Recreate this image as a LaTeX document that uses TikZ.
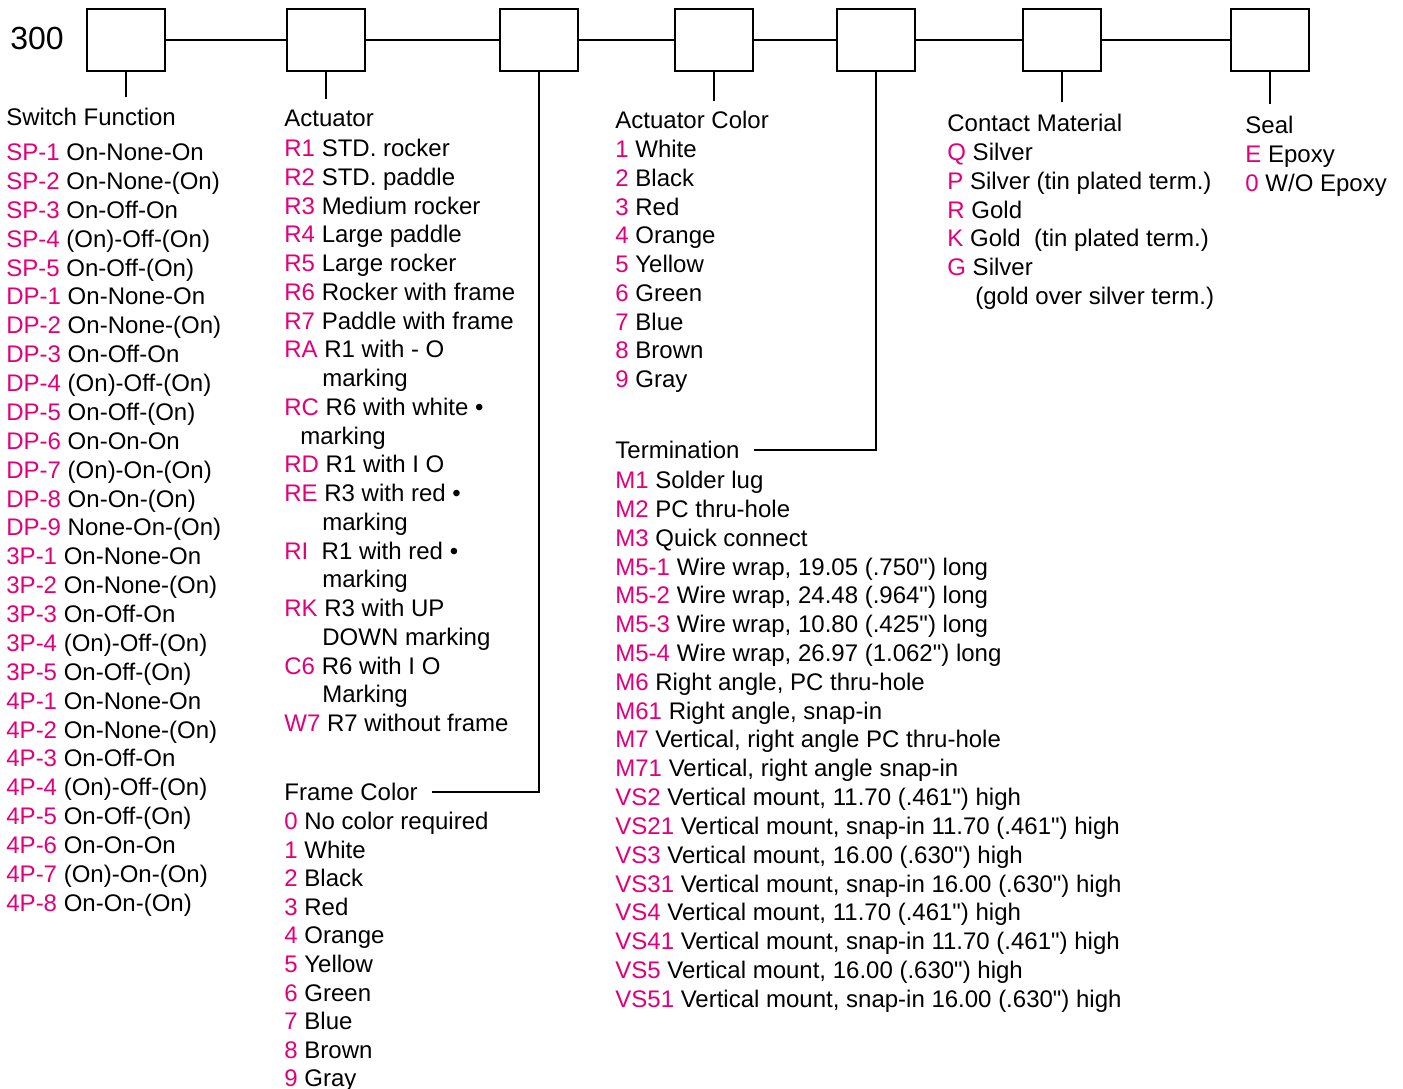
\documentclass[tikz,border=0pt]{standalone}
\usepackage{fontspec}
\setmainfont{Liberation Sans}[Ligatures=TeXOff]
\definecolor{codepink}{RGB}{226,0,122}
\newcommand{\mg}[1]{\textcolor{codepink}{#1}}
\tikzset{
  selbox/.style={draw,line width=1pt,minimum width=39pt,minimum height=31pt,inner sep=0pt},
  item/.style={anchor=base west,inner sep=0pt,font=\fontsize{12}{14}\selectfont},
  link/.style={line width=1pt,shorten >=0pt}
}

\begin{document}
\begin{tikzpicture}[x=0.5pt,y=-0.5pt]
\useasboundingbox (0,0) rectangle (1403,1088);

\node[anchor=base west,inner sep=0pt,font=\fontsize{16}{18}\selectfont] (pn) at (10,49) {300};

% option boxes
\node[selbox] (b1) at (126,40) {};
\node[selbox] (b2) at (326,40) {};
\node[selbox] (b3) at (539,40) {};
\node[selbox] (b4) at (714,40) {};
\node[selbox] (b5) at (876,40) {};
\node[selbox] (b6) at (1062,40) {};
\node[selbox] (b7) at (1270,40) {};
\draw[link] (b1) -- (b2) -- (b3) -- (b4) -- (b5) -- (b6) -- (b7);

% headings
\node[item] (sfh) at (6,125) {Switch Function};
\node[item] (ach) at (284,126) {Actuator};
\node[item] (fch) at (284,800.5) {Frame Color};
\node[item] (cch) at (615,128.5) {Actuator Color};
\node[item] (tmh) at (615,458.5) {Termination};
\node[item] (cmh) at (947,131.5) {Contact Material};
\node[item] (slh) at (1245,133.5) {Seal};

\draw[link,shorten >=5pt] (b1.south) -- (b1.south |- sfh.north);
\draw[link,shorten >=5pt] (b2.south) -- (b2.south |- ach.north);
\draw[link] (b3.south) -- (b3.south |- fch.east) -- ([xshift=7pt]fch.east);
\draw[link,shorten >=5pt] (b4.south) -- (b4.south |- cch.north);
\draw[link] (b5.south) -- (b5.south |- tmh.east) -- ([xshift=7pt]tmh.east);
\draw[link,shorten >=6pt] (b6.south) -- (b6.south |- cmh.north);
\draw[link,shorten >=6pt] (b7.south) -- (b7.south |- slh.north);

% switch function
\foreach \t [count=\i from 0] in {
  {\mg{SP-1} On-None-On}, {\mg{SP-2} On-None-(On)}, {\mg{SP-3} On-Off-On},
  {\mg{SP-4} (On)-Off-(On)}, {\mg{SP-5} On-Off-(On)},
  {\mg{DP-1} On-None-On}, {\mg{DP-2} On-None-(On)}, {\mg{DP-3} On-Off-On},
  {\mg{DP-4} (On)-Off-(On)}, {\mg{DP-5} On-Off-(On)}, {\mg{DP-6} On-On-On},
  {\mg{DP-7} (On)-On-(On)}, {\mg{DP-8} On-On-(On)}, {\mg{DP-9} None-On-(On)},
  {\mg{3P-1} On-None-On}, {\mg{3P-2} On-None-(On)}, {\mg{3P-3} On-Off-On},
  {\mg{3P-4} (On)-Off-(On)}, {\mg{3P-5} On-Off-(On)},
  {\mg{4P-1} On-None-On}, {\mg{4P-2} On-None-(On)}, {\mg{4P-3} On-Off-On},
  {\mg{4P-4} (On)-Off-(On)}, {\mg{4P-5} On-Off-(On)}, {\mg{4P-6} On-On-On},
  {\mg{4P-7} (On)-On-(On)}, {\mg{4P-8} On-On-(On)}}
  \node[item] (sf\i) at (6,160.5+\i*28.88) {\t};

% actuator
\foreach \t [count=\i from 0] in {
  {\mg{R1} STD. rocker}, {\mg{R2} STD. paddle}, {\mg{R3} Medium rocker},
  {\mg{R4} Large paddle}, {\mg{R5} Large rocker}, {\mg{R6} Rocker with frame},
  {\mg{R7} Paddle with frame},
  {\mg{RA} R1 with - O}, {\hspace*{19pt}marking},
  {\mg{RC} R6 with white •}, {\hspace*{8pt}marking},
  {\mg{RD} R1 with I O},
  {\mg{RE} R3 with red •}, {\hspace*{19pt}marking},
  {\mg{RI}\ \ R1 with red •}, {\hspace*{19pt}marking},
  {\mg{RK} R3 with UP}, {\hspace*{19pt}DOWN marking},
  {\mg{C6} R6 with I O}, {\hspace*{19pt}Marking},
  {\mg{W7} R7 without frame}}
  \node[item] (ac\i) at (284,156.5+\i*28.75) {\t};

% frame color
\foreach \t [count=\i from 0] in {
  {\mg{0} No color required}, {\mg{1} White}, {\mg{2} Black}, {\mg{3} Red},
  {\mg{4} Orange}, {\mg{5} Yellow}, {\mg{6} Green}, {\mg{7} Blue},
  {\mg{8} Brown}, {\mg{9} Gray}}
  \node[item] (fc\i) at (284,829.5+\i*28.6) {\t};

% actuator color
\foreach \t [count=\i from 0] in {
  {\mg{1} White}, {\mg{2} Black}, {\mg{3} Red}, {\mg{4} Orange}, {\mg{5} Yellow},
  {\mg{6} Green}, {\mg{7} Blue}, {\mg{8} Brown}, {\mg{9} Gray}}
  \node[item] (cc\i) at (615,157.5+\i*28.75) {\t};

% termination
\foreach \t [count=\i from 0] in {
  {\mg{M1} Solder lug}, {\mg{M2} PC thru-hole}, {\mg{M3} Quick connect},
  {\mg{M5-1} Wire wrap, 19.05 (.750") long},
  {\mg{M5-2} Wire wrap, 24.48 (.964") long},
  {\mg{M5-3} Wire wrap, 10.80 (.425") long},
  {\mg{M5-4} Wire wrap, 26.97 (1.062") long},
  {\mg{M6} Right angle, PC thru-hole}, {\mg{M61} Right angle, snap-in},
  {\mg{M7} Vertical, right angle PC thru-hole},
  {\mg{M71} Vertical, right angle snap-in},
  {\mg{VS2} Vertical mount, 11.70 (.461") high},
  {\mg{VS21} Vertical mount, snap-in 11.70 (.461") high},
  {\mg{VS3} Vertical mount, 16.00 (.630") high},
  {\mg{VS31} Vertical mount, snap-in 16.00 (.630") high},
  {\mg{VS4} Vertical mount, 11.70 (.461") high},
  {\mg{VS41} Vertical mount, snap-in 11.70 (.461") high},
  {\mg{VS5} Vertical mount, 16.00 (.630") high},
  {\mg{VS51} Vertical mount, snap-in 16.00 (.630") high}}
  \node[item] (tm\i) at (615,488.5+\i*28.83) {\t};

% contact material
\foreach \t [count=\i from 0] in {
  {\mg{Q} Silver}, {\mg{P} Silver (tin plated term.)}, {\mg{R} Gold},
  {\mg{K} Gold\ \ (tin plated term.)}, {\mg{G} Silver},
  {\hspace*{14pt}(gold over silver term.)}}
  \node[item] (cm\i) at (947,160.5+\i*28.8) {\t};

% seal
\foreach \t [count=\i from 0] in {{\mg{E} Epoxy}, {\mg{0} W/O Epoxy}}
  \node[item] (sl\i) at (1245,162.5+\i*29) {\t};

\end{tikzpicture}
\end{document}
